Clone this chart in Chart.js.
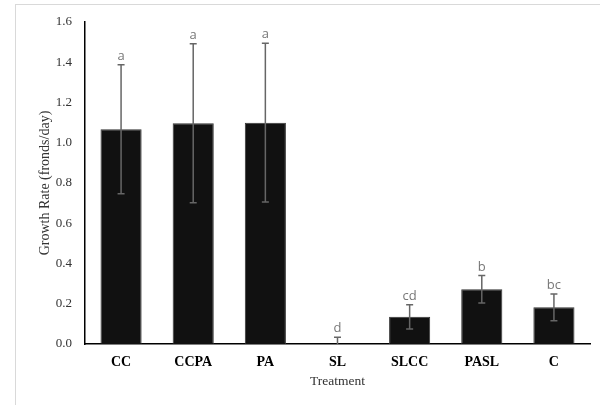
<!DOCTYPE html>
<html>
<head>
<meta charset="utf-8">
<script src="https://cdn.jsdelivr.net/npm/chart.js@4/dist/chart.umd.min.js"></script>
<style>
  body { margin: 0; background: #fff; }
  #wrap { position: relative; width: 600px; height: 405px; overflow: hidden; }
  #frame { position: absolute; left: 15px; top: 4px; width: 620px; height: 430px; border: 1px solid #d9d9d9; }
  canvas { position: absolute; left: 0; top: 0; }
</style>
</head>
<body>
<div id="wrap">
  <div id="frame"></div>
  <canvas id="bargraph" width="600" height="405"></canvas>
</div>
<script>
var treatments = ["CC", "CCPA", "PA", "SL", "SLCC", "PASL", "C"];
var growthRate = [1.067, 1.097, 1.100, 0.0, 0.135, 0.272, 0.182];
var errorSize = [0.32, 0.395, 0.395, 0.033, 0.06, 0.068, 0.066];
var letters = ["a", "a", "a", "d", "cd", "b", "bc"];
var yTicks = [0, 0.2, 0.4, 0.6, 0.8, 1.0, 1.2, 1.4, 1.6];

// error bars and significance letters drawn on top of the bars
var errorBars = {
  id: 'errorBars',
  afterDatasetsDraw: function (chart) {
    var ctx = chart.ctx;
    var y = chart.scales.y;
    var meta = chart.getDatasetMeta(0);
    ctx.save();
    meta.data.forEach(function (bar, i) {
      var v = growthRate[i];
      var top = y.getPixelForValue(v + errorSize[i]);
      var bot = y.getPixelForValue(Math.max(0, v - errorSize[i]));
      ctx.strokeStyle = '#666';
      ctx.lineWidth = 1.5;
      ctx.beginPath();
      ctx.moveTo(bar.x, top);
      ctx.lineTo(bar.x, bot);
      ctx.moveTo(bar.x - 3.5, top);
      ctx.lineTo(bar.x + 3.5, top);
      if (v - errorSize[i] > 0) {
        ctx.moveTo(bar.x - 3.5, bot);
        ctx.lineTo(bar.x + 3.5, bot);
      }
      ctx.stroke();
      ctx.fillStyle = '#777';
      ctx.font = '13px "Open Sans"';
      ctx.textAlign = 'center';
      ctx.textBaseline = 'alphabetic';
      ctx.fillText(letters[i], bar.x, top - 5);
    });
    ctx.restore();
  }
};

var ctx = document.getElementById('bargraph').getContext('2d');
window.myBar = new Chart(ctx, {
  type: 'bar',
  data: {
    labels: treatments,
    datasets: [{
      data: growthRate,
      backgroundColor: '#111111',
      borderColor: '#333333',
      borderWidth: 1,
      categoryPercentage: 1.0,
      barPercentage: 0.57
    }]
  },
  options: {
    responsive: false,
    animation: false,
    layout: { padding: { left: 0, top: 22, right: 10, bottom: 0 } },
    plugins: {
      legend: { display: false },
      tooltip: { enabled: false }
    },
    scales: {
      x: {
        grid: { display: false, drawTicks: false },
        border: { color: '#000', width: 1.5 },
        ticks: {
          color: '#000',
          padding: 10,
          maxRotation: 0,
          font: { family: '"Liberation Serif", "Times New Roman", serif', size: 14, weight: 'bold' }
        },
        title: {
          display: true,
          text: 'Treatment',
          color: '#333',
          padding: { top: 0, bottom: 15 },
          font: { family: '"Liberation Serif", "Times New Roman", serif', size: 13.5 }
        },
        afterFit: function (scale) { scale.height = 61; }
      },
      y: {
        min: 0,
        max: 1.6,
        grid: { display: false, drawTicks: false },
        border: { color: '#000', width: 1.5 },
        afterBuildTicks: function (scale) {
          scale.ticks = yTicks.map(function (v) { return { value: v }; });
        },
        ticks: {
          color: '#333',
          padding: 13,
          callback: function (v) { return Number(v).toFixed(1); },
          font: { family: '"Liberation Serif", "Times New Roman", serif', size: 13 }
        },
        title: {
          display: true,
          text: 'Growth Rate (fronds/day)',
          color: '#333',
          padding: { top: 37, bottom: 0 },
          font: { family: '"Liberation Serif", "Times New Roman", serif', size: 14 }
        },
        afterFit: function (scale) { scale.width = 85; }
      }
    }
  },
  plugins: [errorBars]
});
</script>
</body>
</html>
